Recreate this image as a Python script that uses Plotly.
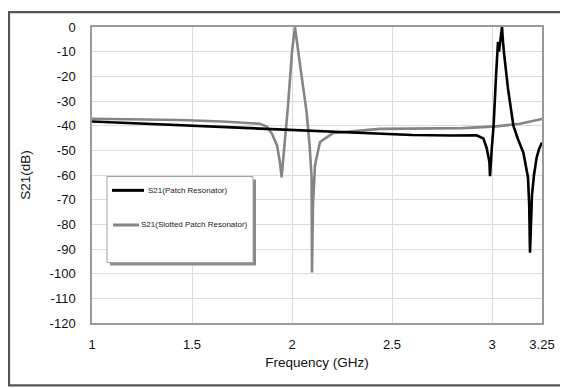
import plotly.graph_objects as go

# ---- data ----
freq_patch = [1.0, 1.25, 1.5, 1.75, 2.0, 2.25, 2.44, 2.6, 2.8, 2.923, 2.957, 2.973, 2.987, 2.99,
              3.0, 3.008, 3.02, 3.03, 3.035, 3.04, 3.045, 3.05, 3.055, 3.06, 3.08, 3.107, 3.13, 3.157,
              3.18, 3.186, 3.19, 3.195, 3.2, 3.21, 3.223, 3.235, 3.25]
s21_patch = [-38.3, -39.2, -40.0, -40.9, -41.8, -42.8, -43.4, -43.8, -44.0, -43.9, -45.2, -49.0, -54.6, -60.5,
             -48.0, -40.0, -20.0, -6.0, -10.0, -6.0, -2.0, 0.0, -6.0, -10.5, -25.0, -40.0, -45.5, -51.0,
             -61.0, -72.0, -91.5, -78.0, -68.0, -60.0, -53.0, -49.5, -46.8]

freq_slot = [1.0, 1.25, 1.44, 1.65, 1.84, 1.875, 1.9, 1.925, 1.94, 1.948, 1.96, 1.98, 2.0, 2.015,
             2.043, 2.06, 2.073, 2.088, 2.098, 2.1, 2.105, 2.115, 2.14, 2.205, 2.3, 2.44, 2.855,
             3.02, 3.14, 3.19, 3.25]
s21_slot = [-37.2, -37.4, -37.7, -38.3, -39.2, -40.5, -43.3, -48.0, -55.0, -61.0, -50.0, -32.0, -10.0, 0.0,
            -17.0, -27.0, -34.5, -48.0, -61.0, -99.5, -72.0, -56.0, -46.6, -43.0, -42.3, -41.3, -41.0,
            -40.3, -39.2, -38.3, -37.3]

series_names = ["S21(Patch Resonator)", "S21(Slotted Patch Resonator)"]
x_ticks = [1, 1.5, 2, 2.5, 3, 3.25]
x_tick_text = ["1", "1.5", "2", "2.5", "3", "3.25"]
y_ticks = list(range(0, -121, -10))
y_tick_text = [str(v) for v in y_ticks]  # plain hyphen minus as in the reference

# ---- geometry ----
# the page body has an 8px margin, so the figure is 560x380 placed at (8, 8);
# the helpers below take page pixel positions.
OFF = 8
W, H = 568 - OFF, 388 - OFF
L, R, T, B = 92 - OFF, 542 - OFF, 24 - OFF, 323 - OFF


def px(x):
    return (x - OFF - L) / (R - L)


def py(y):
    return (B - (y - OFF)) / (B - T)


FONT = "Liberation Sans, Arial, sans-serif"
TXT = "#111111"

fig = go.Figure()
fig.add_trace(go.Scatter(x=freq_slot, y=s21_slot, mode="lines", name=series_names[1],
                         line=dict(color="#858585", width=2.6), showlegend=False))
fig.add_trace(go.Scatter(x=freq_patch, y=s21_patch, mode="lines", name=series_names[0],
                         line=dict(color="#000000", width=2.6), showlegend=False))

shapes = []
# outer frame
shapes.append(dict(type="rect", xref="paper", yref="paper",
                   x0=px(9), x1=px(580), y0=py(386), y1=py(9),
                   line=dict(color="#555555", width=2.2), fillcolor="rgba(0,0,0,0)", layer="below"))
# legend shadow + box
shapes.append(dict(type="rect", xref="paper", yref="paper",
                   x0=px(110), x1=px(256), y0=py(265), y1=py(178),
                   line=dict(width=0), fillcolor="#8a8a8a", layer="above"))
shapes.append(dict(type="rect", xref="paper", yref="paper",
                   x0=px(107), x1=px(253), y0=py(262), y1=py(175),
                   line=dict(color="#a0a0a0", width=1), fillcolor="white", layer="above"))
# legend samples
shapes.append(dict(type="line", xref="paper", yref="paper",
                   x0=px(112), x1=px(144), y0=py(189), y1=py(189),
                   line=dict(color="#000000", width=3), layer="above"))
shapes.append(dict(type="line", xref="paper", yref="paper",
                   x0=px(113), x1=px(139), y0=py(224), y1=py(224),
                   line=dict(color="#858585", width=3), layer="above"))

annotations = [
    dict(text=series_names[0], xref="paper", yref="paper", x=px(146), y=py(189),
         xanchor="left", yanchor="middle", showarrow=False,
         font=dict(family=FONT, size=8, color="#222222")),
    dict(text=series_names[1], xref="paper", yref="paper", x=px(139), y=py(223),
         xanchor="left", yanchor="middle", showarrow=False,
         font=dict(family=FONT, size=8, color="#222222")),
]

fig.update_layout(
    width=W, height=H,
    margin=dict(l=L, r=W - R, t=T, b=H - B, pad=0),
    paper_bgcolor="white", plot_bgcolor="white",
    font=dict(family=FONT, size=13, color=TXT),
    shapes=shapes, annotations=annotations,
    xaxis=dict(range=[1, 3.25], tickvals=x_ticks, ticktext=x_tick_text,
               showgrid=True, gridcolor="#dcdcdc", gridwidth=1,
               showline=True, linecolor="#9a9a9a", linewidth=1.5, mirror=True,
               ticks="outside", ticklen=9, tickcolor="rgba(0,0,0,0)",
               zeroline=False,
               title=dict(text="Frequency (GHz)", standoff=6,
                          font=dict(family=FONT, size=13.5, color=TXT)),
               tickfont=dict(family=FONT, size=13, color=TXT)),
    yaxis=dict(range=[-120, 0], tickvals=y_ticks, ticktext=y_tick_text,
               showgrid=True, gridcolor="#dcdcdc", gridwidth=1,
               showline=True, linecolor="#9a9a9a", linewidth=1.5, mirror=True,
               ticks="outside", ticklen=12, tickcolor="rgba(0,0,0,0)",
               zeroline=False,
               title=dict(text="S21(dB)", standoff=16,
                          font=dict(family=FONT, size=13.5, color=TXT)),
               tickfont=dict(family=FONT, size=13, color=TXT)),
)

fig.write_html("out.html")
